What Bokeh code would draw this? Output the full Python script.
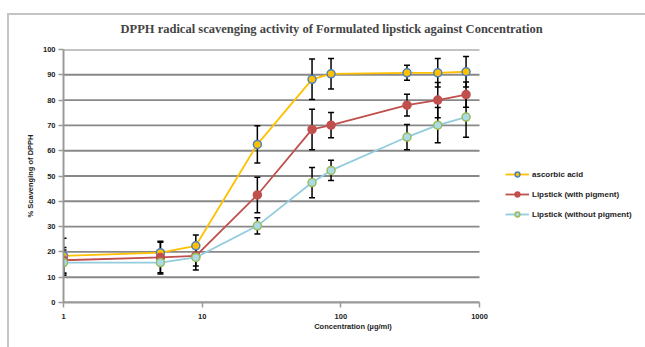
from bokeh.plotting import figure
from bokeh.models import (ColumnDataSource, Whisker, Legend, LegendItem, FixedTicker,
                          CustomJSTickFormatter, InlineStyleSheet, Range1d)
from bokeh.embed import file_html
from bokeh.resources import INLINE

conc = [1, 5, 9, 25, 62, 85, 300, 500, 800]
ascorbic = [18.4, 19.7, 22.4, 62.5, 88.2, 90.4, 90.8, 90.8, 91.2]
ascorbic_err = [7.0, 4.5, 4.3, 7.4, 8.0, 6.0, 3.0, 5.6, 6.0]
with_pig = [16.7, 17.8, 18.4, 42.5, 68.4, 70.1, 78.0, 80.0, 82.2]
with_pig_err = [5.0, 6.0, 4.0, 7.0, 8.0, 5.0, 4.3, 7.0, 5.0]
without_pig = [15.8, 15.8, 17.8, 30.3, 47.4, 52.2, 65.4, 70.1, 73.3]
without_pig_err = [5.0, 4.5, 5.0, 3.2, 6.0, 4.0, 5.0, 7.0, 8.0]
labels = ["ascorbic acid", "Lipstick (with pigment)", "Lipstick (without pigment)"]
x_ticks = [1, 10, 100, 1000]
y_ticks = list(range(0, 101, 10))

# layout (pixels): plot area 63..479, legend area to the right of it
PLOT_W = 416
FRAME_W = 579
x_end = 10 ** (3 * FRAME_W / PLOT_W)

border_css = InlineStyleSheet(css="""
:host::after {
  content: ""; position: absolute; left: 7px; top: 13px; right: -40px; bottom: -40px;
  border-left: 2px solid #c4c4c4; border-top: 2px solid #c4c4c4; pointer-events: none;
}
""")

p = figure(width=643, height=340, x_axis_type="log",
           x_range=Range1d(x_ticks[0], x_end), y_range=Range1d(y_ticks[0], y_ticks[-1]),
           output_backend="svg", toolbar_location=None,
           min_border_left=63, min_border_right=1, min_border_top=49, min_border_bottom=38,
           stylesheets=[border_css])
p.title.text = "DPPH radical scavenging activity of Formulated lipstick against Concentration"
p.title.text_font = "Liberation Serif"
p.title.text_font_size = "12.5px"
p.title.text_font_style = "bold"
p.title.align = "left"
p.title.offset = 57
p.title.standoff = 28

p.outline_line_color = None
p.background_fill_color = "white"
p.border_fill_color = "white"

p.xgrid.grid_line_color = None
p.ygrid.grid_line_color = None
p.segment(x0=[x_ticks[0]] * len(y_ticks), x1=[x_ticks[-1]] * len(y_ticks),
          y0=y_ticks, y1=y_ticks, line_color="#888888", line_width=1.9, level="underlay")

p.xaxis.ticker = FixedTicker(ticks=x_ticks)
p.xaxis.bounds = (x_ticks[0], x_ticks[-1])
p.xaxis.formatter = CustomJSTickFormatter(code="return String(Math.round(tick));")
p.yaxis.ticker = FixedTicker(ticks=y_ticks)
for ax in (p.xaxis, p.yaxis):
    ax.axis_line_color = "#9a9a9a"
    ax.axis_line_width = 2
    ax.major_tick_line_color = "#9a9a9a"
    ax.major_tick_line_width = 1.5
    ax.major_tick_out = 5
    ax.major_tick_in = 0
    ax.minor_tick_line_color = None
    ax.major_label_text_font = "Liberation Sans"
    ax.major_label_text_font_size = "7.5px"
    ax.major_label_text_font_style = "bold"
    ax.major_label_text_color = "#222222"
    ax.axis_label_text_font = "Liberation Sans"
    ax.axis_label_text_font_size = "7.5px"
    ax.axis_label_text_font_style = "bold"
    ax.axis_label_text_color = "#222222"
p.xaxis.axis_label = "Concentration (µg/ml)"
p.yaxis.axis_label = "% Scavenging of DPPH"
p.xaxis.major_label_standoff = 6
p.xaxis.axis_label_standoff = 0
p.yaxis.major_label_standoff = 3
p.yaxis.axis_label_standoff = 5

series = [
    (ascorbic, ascorbic_err, "#FFC000", "#FFC000", "#4F81BD"),
    (with_pig, with_pig_err, "#C0504D", "#C0504D", "#C0504D"),
    (without_pig, without_pig_err, "#93CDDD", "#A9DCE8", "#9BBB59"),
]
items = []
for (vals, errs, lc, fc, mc), lab in zip(series, labels):
    src = ColumnDataSource(dict(x=conc, y=vals,
                                lo=[v - e for v, e in zip(vals, errs)],
                                hi=[v + e for v, e in zip(vals, errs)]))
    w = Whisker(source=src, base="x", lower="lo", upper="hi", line_color="black", line_width=1.5)
    w.upper_head.size = 6
    w.lower_head.size = 6
    w.upper_head.line_color = "black"
    w.lower_head.line_color = "black"
    w.upper_head.line_width = 1.5
    w.lower_head.line_width = 1.5
    p.add_layout(w)
    ln = p.line("x", "y", source=src, line_color=lc, line_width=1.8)
    sc = p.scatter("x", "y", source=src, size=8, fill_color=fc, line_color=mc, line_width=1.5)
    items.append(LegendItem(label=lab, renderers=[ln, sc]))

legend = Legend(items=items, location=(442, 82), orientation="vertical",
                label_text_font="Liberation Sans", label_text_font_size="8px",
                label_text_font_style="bold", label_text_color="#222222",
                glyph_width=24, glyph_height=12, spacing=8, label_standoff=3,
                background_fill_alpha=0, border_line_color=None, padding=0, margin=0)
p.add_layout(legend, "center")

open("out.html", "w").write(file_html(p, INLINE))
